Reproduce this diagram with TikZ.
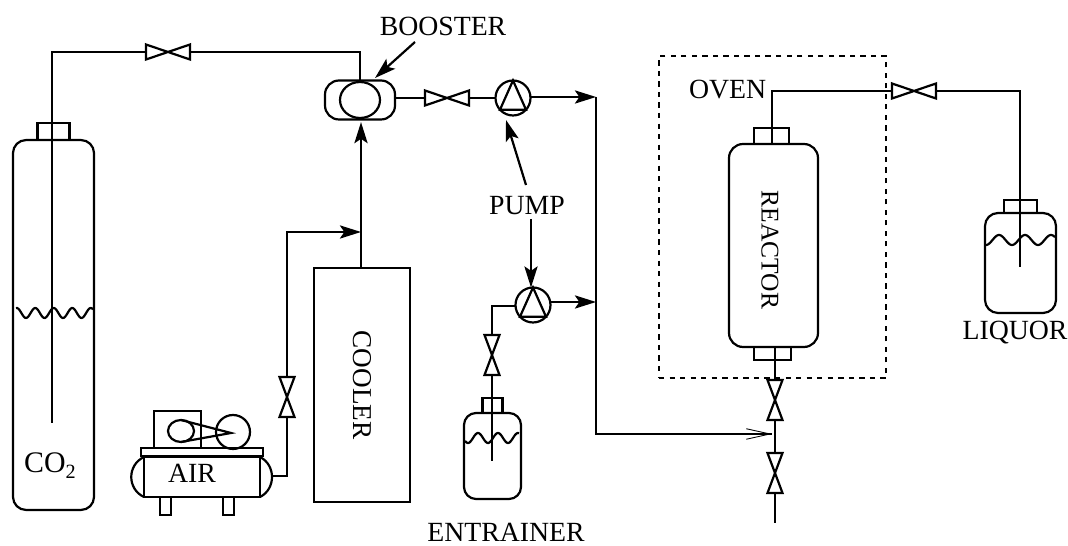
\documentclass[tikz,border=0pt]{standalone}
\usepackage{fontspec}
\setmainfont{Liberation Serif}
\usetikzlibrary{arrows.meta}

\begin{document}
\begin{tikzpicture}[
	x=0.02cm, y=-0.02cm,
	>={Stealth[length=12pt,width=7.5pt,inset=2.5pt]}, line width=1.25pt,
	tubo/.style={line width=1.25pt, line join=miter, black},
	freccia/.style={->, line width=1.25pt, black},
	serbatoio/.style={draw, rectangle, line width=1.25pt, outer sep=0pt, inner sep=0pt},
	valvolaO/.style={rectangle, minimum width=0.88cm, minimum height=0.3cm, outer sep=0pt, inner sep=0pt},
	valvolaV/.style={rectangle, minimum width=0.3cm, minimum height=0.8cm, outer sep=0pt, inner sep=0pt},
	pompa/.style={draw, circle, minimum size=0.7cm, outer sep=0pt, inner sep=0pt},
	etichetta/.style={inner sep=0pt, font=\fontsize{15.8}{18}\selectfont}]
	
	\useasboundingbox (0,0) rectangle (1068,546);
	
	%% onda del liquido: x iniziale, x finale, y, periodo, x del primo ventre
	\def\onda#1#2#3#4#5{\draw[tubo] plot[domain=#1:#2, samples=70, smooth] (\x,{#3+5*cos(360/#4*(\x-#5))});}
	
	%% --- bombola CO2 ---
	\node[serbatoio, rounded corners=0.26cm, minimum width=1.62cm, minimum height=7.4cm] (bombola) at (53.5,325) {};
	\node[serbatoio, minimum width=0.64cm, minimum height=0.34cm, anchor=south] (tappoB) at (bombola.north) {};
	\onda{16}{93}{313}{18.5}{26}
	\node[etichetta, font=\fontsize{17}{18}\selectfont] (lbco) at (50,466) {CO\raisebox{-3.5pt}{\fontsize{11.5}{12}\selectfont 2}};
	\coordinate (fondoB) at (52,423);
	\coordinate (angoloB) at (52,52);
	\coordinate (angoloC) at (360,52);
	
	%% --- booster ---
	\node[serbatoio, rounded corners=0.28cm, minimum width=1.4cm, minimum height=0.78cm] (booster) at (360,100) {};
	\draw[tubo] (booster.center) ellipse [x radius=20, y radius=18];
	\node[etichetta] (lbbooster) at (443,26) {BOOSTER};
	\coordinate (codaB) at (415,42);
	
	%% --- valvole ---
	\node[valvolaO] (vco) at (168,52) {};
	\node[valvolaO] (vbo) at (447,98) {};
	\node[valvolaO] (vre) at (914,91) {};
	\node[valvolaV] (vair) at (287,397) {};
	\node[valvolaV] (ven) at (492,355) {};
	\node[valvolaV] (vus) at (775,400) {};
	\node[valvolaV] (vsc) at (775,473) {};
	\foreach \v in {vco,vbo,vre}
		\draw[tubo] (\v.north west) -- (\v.south east) -- (\v.north east) -- (\v.south west) -- cycle;
	\foreach \v in {vair,ven,vus,vsc}
		\draw[tubo] (\v.north west) -- (\v.south east) -- (\v.south west) -- (\v.north east) -- cycle;
	
	%% --- pompe ---
	\node[pompa] (pompaA) at (513,98) {};
	\node[pompa] (pompaB) at (533,305) {};
	\foreach \p in {pompaA,pompaB}
		\draw[tubo] (\p.north) -- (\p.222) -- (\p.318) -- cycle;
	\node[etichetta] (lbpompa) at (527,206) {PUMP};
	\coordinate (codaS) at (526,185);
	\coordinate (codaG) at (531,219);
	
	%% --- cooler ---
	\node[serbatoio, etichetta, font=\fontsize{15.5}{17}\selectfont, rotate=-90, minimum width=4.68cm, minimum height=1.92cm] (cooler) at (362,385) {COOLER};
	
	%% --- compressore ---
	\draw[tubo] (144,457) rectangle (260,497);
	\draw[tubo] (141,448) rectangle (263,456);
	\draw[tubo] (154,448) -- (154,411) -- (201,411) -- (201,448);
	\draw[tubo] (233,432) circle (17);
	\draw[tubo] (181,431) ellipse [x radius=13, y radius=11];
	\draw[tubo] (181,420) -- (231,433) -- (181,442);
	\draw[tubo] (144,457) .. controls (127,465) and (127,489) .. (144,497);
	\draw[tubo] (260,457) .. controls (276,465) and (276,489) .. (260,497);
	\draw[tubo] (160,497) rectangle (171,515);
	\draw[tubo] (223,497) rectangle (234,515);
	\node[etichetta] (lbair) at (192,473) {AIR};
	\coordinate (uscitaA) at (272,476);
	
	%% --- bottiglia entrainer ---
	\node[serbatoio, rounded corners=0.24cm, minimum width=1.14cm, minimum height=1.72cm] (bottigliaE) at (492.5,456) {};
	\node[serbatoio, minimum width=0.4cm, minimum height=0.3cm, anchor=south] (tappoE) at (bottigliaE.north) {};
	\onda{465}{519}{438}{20}{468}
	\node[etichetta] (lbentr) at (506,532) {ENTRAINER};
	\coordinate (fondoE) at (492,461);
	\coordinate (angoloE) at (492,306);
	
	%% --- forno e reattore ---
	\node[draw, rectangle, dashed, line width=1.25pt, minimum width=4.54cm, minimum height=6.44cm, outer sep=0pt] (forno) at (772.5,217) {};
	\node[etichetta, anchor=west] (lbforno) at (688,90) {OVEN};
	\node[serbatoio, rotate=-90, rounded corners=0.28cm, minimum width=4.06cm, minimum height=1.78cm] (reattore) at (773.5,245.5) {};
	\node[etichetta, font=\fontsize{14.5}{17}\selectfont, rotate=-90] (lbreattore) at (770,250) {REACTOR};
	\node[serbatoio, minimum width=0.7cm, minimum height=0.32cm, anchor=south] (tappoR) at (771.5,144) {};
	\node[serbatoio, minimum width=0.74cm, minimum height=0.26cm, anchor=north] (tappoS) at (772.5,347) {};
	\coordinate (angoloR) at (772,91);
	\coordinate (angoloL) at (1020,91);
	\coordinate (fine) at (775,523);
	
	%% --- bottiglia liquor ---
	\node[serbatoio, rounded corners=0.26cm, minimum width=1.42cm, minimum height=2cm] (bottigliaL) at (1020.5,263) {};
	\node[serbatoio, minimum width=0.66cm, minimum height=0.26cm, anchor=south] (tappoL) at (bottigliaL.north) {};
	\onda{986}{1055}{240}{26}{986}
	\node[etichetta] (lbliquor) at (1015,333) {LIQUOR};
	\coordinate (fondoL) at (1020,267);
	
	%% --- tubazioni CO2 ---
	\draw[tubo] (fondoB) -- (angoloB) -- (vco.west);
	\draw[tubo] (vco.east) -- (angoloC) -- (booster.north -| angoloC);
	\draw[tubo] (booster.east |- vbo) -- (vbo.west);
	\draw[tubo] (vbo.east) -- (pompaA.west);
	
	%% --- collettore ---
	\coordinate (nodoA) at (596,97);
	\coordinate (nodoB) at (596,302);
	\coordinate (angoloM) at (596,434);
	\coordinate (arrivo) at (772,434);
	\draw[freccia] (pompaA.east |- nodoA) -- (nodoA);
	\draw[freccia] (pompaB.east |- nodoB) -- (nodoB);
	\draw[tubo] (nodoA) -- (angoloM) -- (arrivo);
	\draw[line width=0.5pt, -{Straight Barb[length=13.5pt,width=6pt]}] (720,434) -- (arrivo);
	
	%% --- aria ---
	\coordinate (gomitoA) at (287,476);
	\coordinate (gomitoB) at (287,232);
	\coordinate (innesto) at (361,232);
	\draw[tubo] (uscitaA) -- (gomitoA) -- (vair.south);
	\draw[freccia] (vair.north) -- (gomitoB) -- (innesto);
	\draw[freccia, shorten >=1.5pt] (cooler.west -| innesto) -- (booster.south -| innesto);
	
	%% --- entrainer ---
	\draw[tubo] (fondoE) -- (ven.south);
	\draw[tubo] (ven.north) -- (angoloE) -- (pompaB.west |- angoloE);
	
	%% --- reattore ---
	\draw[tubo] (tappoR.south -| angoloR) -- (angoloR) -- (vre.west |- angoloR);
	\draw[tubo] (vre.east) -- (angoloL) -- (fondoL);
	\draw[tubo] (tappoS.north -| vus) -- (vus.north);
	\draw[tubo] (vus.south) -- (vsc.north);
	\draw[tubo] (vsc.south) -- (fine);
	
	%% --- frecce delle etichette ---
	\draw[freccia] (codaB) -- (375,78);
	\draw[freccia] (codaS) -- (506,120);
	\draw[freccia] (codaG) -- (codaG |- pompaB.north);
\end{tikzpicture}
\end{document}
